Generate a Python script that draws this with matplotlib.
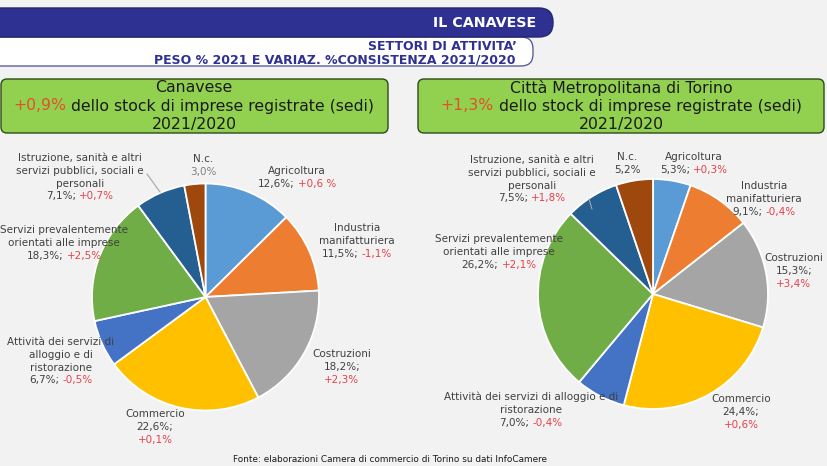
import matplotlib
matplotlib.use("Agg")
import matplotlib.pyplot as plt
from matplotlib.patches import FancyBboxPatch
from matplotlib.offsetbox import TextArea, HPacker, AnnotationBbox

# ---------------- data ----------------
sectors = ["Agricoltura", "Industria manifatturiera", "Costruzioni", "Commercio",
           "Attività dei servizi di alloggio e di ristorazione",
           "Servizi prevalentemente orientati alle imprese",
           "Istruzione, sanità e altri servizi pubblici, sociali e personali", "N.c."]
canavese_share = [12.6, 11.5, 18.2, 22.6, 6.7, 18.3, 7.1, 3.0]
canavese_change = ["+0,6 %", "-1,1%", "+2,3%", "+0,1%", "-0,5%", "+2,5%", "+0,7%", None]
torino_share = [5.3, 9.1, 15.3, 24.4, 7.0, 26.2, 7.5, 5.2]
torino_change = ["+0,3%", "-0,4%", "+3,4%", "+0,6%", "-0,4%", "+2,1%", "+1,8%", None]
titles = ["Canavese", "Città Metropolitana di Torino"]
total_change = ["+0,9%", "+1,3%"]
subtitle = "dello stock di imprese registrate (sedi)"
period = "2021/2020"
header = "IL CANAVESE"
sub_header = ["SETTORI DI ATTIVITA’", "PESO % 2021 E VARIAZ. %CONSISTENZA 2021/2020"]
source = "Fonte: elaborazioni Camera di commercio di Torino su dati InfoCamere"

colors = ["#5b9bd5", "#ed7d31", "#a5a5a5", "#ffc000", "#4472c4", "#70ad47", "#255e91", "#9e480e"]
NAVY = "#2e3192"
RED = "#e5424a"
TXT = "#404040"
BG = "#f2f2f2"
LFS = 7.5   # label font size
TFS = 11.3  # title font size

W, H = 828, 466
fig = plt.figure(figsize=(W / 100, H / 100), dpi=100, facecolor=BG)
plt.rcParams['font.family'] = ['DejaVu Sans']

# overlay axes in pixel coordinates
ov = fig.add_axes([0, 0, 1, 1], zorder=5)
ov.set_xlim(0, W)
ov.set_ylim(H, 0)
ov.axis("off")
ov.patch.set_alpha(0)

# ---------------- header ----------------
ov.add_patch(FancyBboxPatch((-40, 8), 593, 29, boxstyle="round,pad=0,rounding_size=14",
                            facecolor=NAVY, edgecolor="#23266e", lw=1.0))
ov.text(536, 23, header, color="white", fontsize=10.3, fontweight="bold",
        ha="right", va="center")
ov.add_patch(FancyBboxPatch((-40, 37), 573, 29, boxstyle="round,pad=0,rounding_size=12",
                            facecolor="white", edgecolor="#4a4d9a", lw=0.9, zorder=0.5))
ov.text(517, 46, sub_header[0], color=NAVY, fontsize=9, fontweight="bold", ha="right", va="center")
ov.text(516, 60, sub_header[1], color=NAVY, fontsize=9, fontweight="bold", ha="right", va="center")


def multiline(x, y, parts, size=LFS, sep=2.4):
    parts = [p for p in parts if p[0]]
    if len(parts) == 1:
        ov.text(x, y, parts[0][0], color=parts[0][1], fontsize=size, ha="center", va="center")
        return
    boxes = [TextArea(t, textprops=dict(color=c, fontsize=size)) for t, c in parts]
    pk = HPacker(children=boxes, align="baseline", pad=0, sep=sep)
    ab = AnnotationBbox(pk, (x, y), xycoords="data", frameon=False,
                        box_alignment=(0.5, 0.5), pad=0)
    ov.add_artist(ab)


# ---------------- green title boxes ----------------
boxes_x = [(1, 387), (418, 406)]
centers_x = [194, 621]
for i in range(2):
    x0, w = boxes_x[i]
    ov.add_patch(FancyBboxPatch((x0, 79), w, 54, boxstyle="round,pad=0,rounding_size=6",
                                facecolor="#92d050", edgecolor="#2f4a1a", lw=1.0))
    ov.text(centers_x[i], 88, titles[i], color="#1a1a1a", fontsize=TFS, ha="center", va="center")
    multiline(centers_x[i], 106, [(total_change[i], "#e2512a"), (subtitle, "#1a1a1a")],
              size=TFS, sep=3.5)
    ov.text(centers_x[i], 124, period, color="#1a1a1a", fontsize=TFS, ha="center", va="center")

# ---------------- pies ----------------
def fmt(v):
    return f"{v:.1f}".replace(".", ",") + "%"

pie_geo = [(205.5, 297, 113.5), (653, 294, 115)]
for (cx, cy, r), share in zip(pie_geo, [canavese_share, torino_share]):
    ax = fig.add_axes([(cx - r) / W, (H - cy - r) / H, 2 * r / W, 2 * r / H], zorder=2)
    ax.pie(share, colors=colors, startangle=90, counterclock=False,
           wedgeprops=dict(edgecolor="white", linewidth=1.3))
    ax.set_xlim(-1.0, 1.0)
    ax.set_ylim(-1.0, 1.0)
    ax.set_aspect("auto")
    ax.axis("off")

# label layouts: (x, first y, name lines, split value/change)
STEP = 12.8
layout_left = [
    (297, 171, ["Agricoltura"], False),
    (357, 228, ["Industria", "manifatturiera"], False),
    (342, 354, ["Costruzioni"], True),
    (155, 414, ["Commercio"], True),
    (61, 342, ["Attività dei servizi di", "alloggio e di", "ristorazione"], False),
    (64, 230, ["Servizi prevalentemente", "orientati alle imprese"], False),
    (80, 158, ["Istruzione, sanità e altri", "servizi pubblici, sociali e", "personali"], False),
    (203, 159, ["N.c."], False),
]
layout_right = [
    (694, 157, ["Agricoltura"], False),
    (764, 186, ["Industria", "manifatturiera"], False),
    (794, 258, ["Costruzioni"], True),
    (741, 399, ["Commercio"], True),
    (531, 397, ["Attività dei servizi di alloggio e di", "ristorazione"], False),
    (499, 239, ["Servizi prevalentemente", "orientati alle imprese"], False),
    (532, 160, ["Istruzione, sanità e altri", "servizi pubblici, sociali e", "personali"], False),
    (627, 157, ["N.c."], False),
]
nc_color = ["#808080", TXT]

for k, (layout, share, change) in enumerate([(layout_left, canavese_share, canavese_change),
                                             (layout_right, torino_share, torino_change)]):
    for i, (x, y, names, split) in enumerate(layout):
        yy = y
        for nm in names:
            ov.text(x, yy, nm, color=TXT, fontsize=LFS, ha="center", va="center")
            yy += STEP
        if change[i] is None:
            ov.text(x, yy, fmt(share[i]), color=nc_color[k], fontsize=LFS, ha="center", va="center")
        elif split:
            ov.text(x, yy, fmt(share[i]) + ";", color=TXT, fontsize=LFS, ha="center", va="center")
            ov.text(x, yy + STEP, change[i], color=RED, fontsize=LFS, ha="center", va="center")
        else:
            multiline(x, yy, [(fmt(share[i]) + ";", TXT), (change[i], RED)])

# leader lines
ov.plot([147, 160], [174, 192], color="#a6a6a6", lw=0.8)
ov.plot([589, 592], [199, 209], color="#a6a6a6", lw=0.8)

# source
ov.text(390, 459, source, color="#1a1a1a", fontsize=6.4, ha="center", va="center")

fig.savefig("out.png", dpi=100, facecolor=BG)
